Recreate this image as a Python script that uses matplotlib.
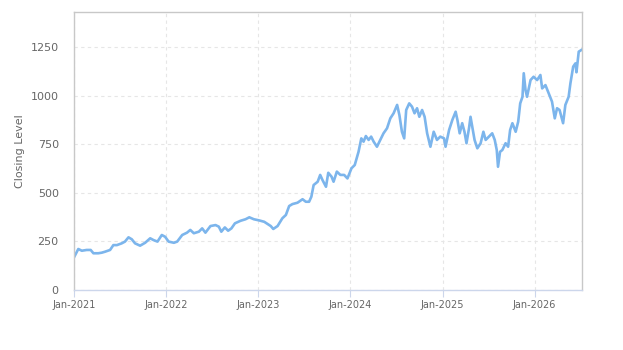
import matplotlib.pyplot as plt
import matplotlib.dates as mdates
import pandas as pd

# --- data (approximate closing levels) ---
dates_2021 = ["2021-01-01", "2021-01-18", "2021-02-01", "2021-02-20", "2021-03-08", "2021-03-19",
              "2021-04-07", "2021-04-21", "2021-05-04", "2021-05-24", "2021-06-06", "2021-06-20",
              "2021-07-09", "2021-07-22", "2021-08-05", "2021-08-18", "2021-08-31", "2021-09-20",
              "2021-10-10", "2021-10-30", "2021-11-12", "2021-11-28", "2021-12-15", "2021-12-28"]
close_2021 = [168, 211, 202, 206, 206, 189, 189, 192, 197, 206, 231, 231,
              240, 249, 271, 261, 240, 228, 243, 266, 257, 249, 283, 274]

dates_2022 = ["2022-01-11", "2022-02-01", "2022-02-14", "2022-03-06", "2022-03-25", "2022-04-07",
              "2022-04-21", "2022-05-11", "2022-05-24", "2022-06-06", "2022-06-26", "2022-07-16",
              "2022-07-29", "2022-08-08", "2022-08-22", "2022-09-04", "2022-09-17", "2022-10-01",
              "2022-10-23", "2022-11-12", "2022-11-27", "2022-12-15"]
close_2022 = [249, 243, 249, 283, 295, 309, 292, 300, 317, 295, 329, 334,
              326, 300, 322, 305, 317, 343, 356, 364, 374, 364]

dates_2023 = ["2023-01-05", "2023-01-25", "2023-02-07", "2023-02-20", "2023-03-02", "2023-03-19",
              "2023-04-07", "2023-04-21", "2023-05-04", "2023-05-17", "2023-06-06", "2023-06-26",
              "2023-07-09", "2023-07-22", "2023-07-31", "2023-08-09", "2023-08-25", "2023-09-04",
              "2023-09-13", "2023-09-27", "2023-10-06", "2023-10-19", "2023-10-27", "2023-11-09",
              "2023-11-23", "2023-12-08", "2023-12-21"]
close_2023 = [358, 351, 340, 329, 314, 329, 369, 386, 432, 442, 449, 467,
              454, 454, 480, 540, 557, 592, 566, 531, 603, 583, 557, 609,
              592, 592, 574]

dates_2024 = ["2024-01-06", "2024-01-19", "2024-02-03", "2024-02-14", "2024-02-23", "2024-03-03",
              "2024-03-14", "2024-03-24", "2024-04-03", "2024-04-16", "2024-04-29", "2024-05-12",
              "2024-05-26", "2024-06-08", "2024-06-21", "2024-07-05", "2024-07-14", "2024-07-24",
              "2024-08-02", "2024-08-10", "2024-08-22", "2024-09-02", "2024-09-12", "2024-09-22",
              "2024-10-01", "2024-10-12", "2024-10-22", "2024-11-01", "2024-11-14", "2024-11-27",
              "2024-12-10", "2024-12-23"]
close_2024 = [626, 643, 711, 780, 763, 792, 772, 789, 763, 737, 772, 806,
              832, 883, 909, 952, 900, 814, 780, 926, 960, 943, 909, 935,
              891, 926, 891, 806, 737, 814, 772, 789]

dates_2025 = ["2025-01-07", "2025-01-13", "2025-01-27", "2025-02-09", "2025-02-22", "2025-03-01",
              "2025-03-10", "2025-03-20", "2025-03-29", "2025-04-06", "2025-04-16", "2025-04-22",
              "2025-04-29", "2025-05-08", "2025-05-19", "2025-06-01", "2025-06-12", "2025-06-21",
              "2025-07-04", "2025-07-17", "2025-07-27", "2025-08-04", "2025-08-09", "2025-08-17",
              "2025-08-26", "2025-09-08", "2025-09-18", "2025-09-26", "2025-10-05", "2025-10-18",
              "2025-10-28", "2025-11-05", "2025-11-14", "2025-11-19", "2025-11-26", "2025-12-02",
              "2025-12-16", "2025-12-28"]
close_2025 = [780, 737, 823, 875, 917, 875, 806, 858, 814, 755, 832, 891,
              840, 772, 729, 755, 814, 772, 789, 806, 772, 720, 634, 711,
              720, 755, 737, 823, 858, 814, 866, 960, 994, 1115, 1029, 994,
              1080, 1097]

dates_2026 = ["2026-01-11", "2026-01-24", "2026-01-31", "2026-02-13", "2026-02-26", "2026-03-11",
              "2026-03-22", "2026-03-31", "2026-04-10", "2026-04-24", "2026-05-03", "2026-05-16",
              "2026-05-23", "2026-06-03", "2026-06-12", "2026-06-16", "2026-06-25", "2026-07-06"]
close_2026 = [1080, 1106, 1037, 1054, 1012, 969, 883, 935, 926, 858, 952, 994,
              1063, 1149, 1166, 1120, 1226, 1235]

Y_TICKS = [0, 250, 500, 750, 1000, 1250]
X_START, X_END = "2021-01-01", "2026-07-06"

LINE_COLOR = "#7cb5ec"
AXIS_COLOR = "#ccd6eb"   # bottom axis line (bluish)
FRAME_COLOR = "#c8c8c8"  # left / top / right frame
GRID_COLOR = "#e6e6e6"
TEXT_COLOR = "#666666"


def plot_closing():
    dates = pd.to_datetime(dates_2021 + dates_2022 + dates_2023 + dates_2024 + dates_2025 + dates_2026)
    close = close_2021 + close_2022 + close_2023 + close_2024 + close_2025 + close_2026

    fig = plt.figure(figsize=(6.23, 3.5), dpi=100)
    ax = fig.add_axes([0.1188, 0.1714, 0.8146, 0.7943])

    ax.plot(dates, close, color=LINE_COLOR, linewidth=1.9, solid_joinstyle="round")

    ax.set_xlim(pd.Timestamp(X_START), pd.Timestamp(X_END))
    ax.set_ylim(0, 1430)
    ax.set_yticks(Y_TICKS)
    ax.xaxis.set_major_locator(mdates.YearLocator())
    ax.xaxis.set_major_formatter(mdates.DateFormatter("%b-%Y"))

    ax.grid(True, color=GRID_COLOR, linestyle=(0, (3, 3)), linewidth=0.8)
    ax.set_axisbelow(True)

    for side in ["left", "right", "top"]:
        ax.spines[side].set_color(FRAME_COLOR)
        ax.spines[side].set_linewidth(1.0)
    ax.spines["bottom"].set_color(AXIS_COLOR)
    ax.spines["bottom"].set_linewidth(1.0)

    ax.tick_params(axis="y", length=0, pad=11, labelsize=8, labelcolor=TEXT_COLOR)
    ax.tick_params(axis="x", length=5, color=AXIS_COLOR, pad=2, labelsize=7, labelcolor=TEXT_COLOR)

    ax.set_ylabel("Closing Level", fontsize=8, color=TEXT_COLOR, labelpad=4)

    fig.savefig("out.png", dpi=100)


if __name__ == "__main__":
    plot_closing()
